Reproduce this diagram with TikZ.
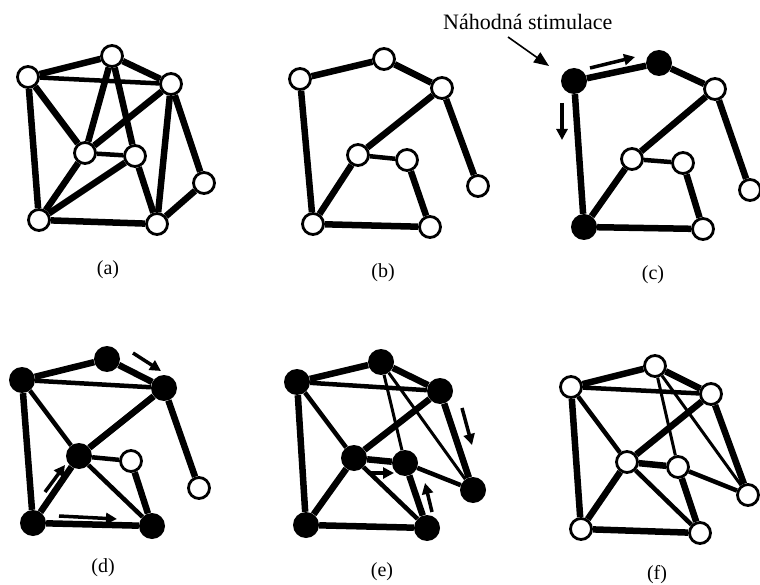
\documentclass[tikz,border=0pt]{standalone}
\usepackage{fontspec}
\setmainfont{Liberation Serif}
\usetikzlibrary{arrows.meta}
\tikzset{
  onode/.style={circle, draw=black, fill=white, line width=2.8pt, minimum size=21pt, inner sep=0pt},
  fnode/.style={circle, fill=black, minimum size=26pt, inner sep=0pt},
  thk/.style={line width=6.5pt},
  med/.style={line width=4.5pt},
  thn/.style={line width=3pt},
  sarrow/.style={line width=3.5pt, -{Triangle[length=11pt,width=11pt]}},
  lbl/.style={font=\fontsize{20}{22}\selectfont, inner sep=0pt}
}
\begin{document}
\begin{tikzpicture}[x=1pt,y=-1pt]
\useasboundingbox (0,0) rectangle (760,585);
\fill[white] (0,0) rectangle (760,585);

% ---------- (a) ----------
\node[onode] (a1) at (28,77) {};
\node[onode] (a2) at (112,56) {};
\node[onode] (a3) at (171,84) {};
\node[onode] (a4) at (85,153) {};
\node[onode] (a5) at (135,156) {};
\node[onode] (a6) at (204,183) {};
\node[onode] (a7) at (39,220) {};
\node[onode] (a8) at (157,224) {};
\draw[thk] (a1) -- (a2);
\draw[med] (a1) -- (a3);
\draw[thk] (a2) -- (a3);
\draw[thk] (a1) -- (a4);
\draw[thk] (a1) -- (a7);
\draw[thk] (a2) -- (a4);
\draw[thk] (a2) -- (a5);
\draw[thk] (a3) -- (a4);
\draw[thk] (a3) -- (a8);
\draw[thk] (a3) -- (a6);
\draw[med] (a4) -- (a5);
\draw[thk] (a4) -- (a7);
\draw[thk] (a5) -- (a7);
\draw[thk] (a5) -- (a8);
\draw[thk] (a6) -- (a8);
\draw[thk] (a7) -- (a8);
\node[lbl] (la) at (108,270) {(a)};

% ---------- (b) ----------
\node[onode] (b1) at (300,79) {};
\node[onode] (b2) at (384,59) {};
\node[onode] (b3) at (442,88) {};
\node[onode] (b4) at (358,155) {};
\node[onode] (b5) at (407,160) {};
\node[onode] (b6) at (478,186) {};
\node[onode] (b7) at (313,224) {};
\node[onode] (b8) at (430,227) {};
\draw[thk] (b1) -- (b2);
\draw[thk] (b2) -- (b3);
\draw[thk] (b1) -- (b7);
\draw[thk] (b3) -- (b4);
\draw[thk] (b3) -- (b6);
\draw[med] (b4) -- (b5);
\draw[thk] (b4) -- (b7);
\draw[thk] (b5) -- (b8);
\draw[thk] (b7) -- (b8);
\node[lbl] (lb) at (383,273) {(b)};

% ---------- (c) ----------
\node[fnode] (c1) at (574,81) {};
\node[fnode] (c2) at (659,63) {};
\node[onode] (c3) at (715,89) {};
\node[onode] (c4) at (632,159) {};
\node[onode] (c5) at (683,163) {};
\node[onode] (c6) at (750,190) {};
\node[fnode] (c7) at (584,227) {};
\node[onode] (c8) at (703,229) {};
\draw[thk] (c1) -- (c2);
\draw[thk] (c2) -- (c3);
\draw[thk] (c1) -- (c7);
\draw[thk] (c3) -- (c4);
\draw[thk] (c3) -- (c6);
\draw[med] (c4) -- (c5);
\draw[thk] (c4) -- (c7);
\draw[thk] (c5) -- (c8);
\draw[thk] (c7) -- (c8);
\coordinate (ca1s) at (590,68);
\coordinate (ca1e) at (635,57);
\draw[sarrow] (ca1s) -- (ca1e);
\coordinate (ca2s) at (562,103);
\coordinate (ca2e) at (562,140);
\draw[sarrow] (ca2s) -- (ca2e);
\node[lbl] (lc) at (653,275) {(c)};
\node[font=\fontsize{22}{24}\selectfont, inner sep=0pt, anchor=base west] (stim) at (443,30) {Náhodná stimulace};
\coordinate (stims) at (508,37);
\coordinate (stime) at (549,66);
\draw[line width=1.6pt, -{Triangle[length=15pt,width=12pt]}] (stims) -- (stime);

% ---------- (d) ----------
\node[fnode] (d1) at (22,380) {};
\node[fnode] (d2) at (107,359) {};
\node[fnode] (d3) at (164,388) {};
\node[fnode] (d4) at (79,456) {};
\node[onode] (d5) at (131,461) {};
\node[onode] (d6) at (199,488) {};
\node[fnode] (d7) at (33,523) {};
\node[fnode] (d8) at (152,526) {};
\draw[thk] (d1) -- (d2);
\draw[med] (d1) -- (d3);
\draw[thk] (d2) -- (d3);
\draw[med] (d1) -- (d4);
\draw[thk] (d1) -- (d7);
\draw[thk] (d3) -- (d4);
\draw[thk] (d3) -- (d6);
\draw[med] (d4) -- (d5);
\draw[thk] (d4) -- (d7);
\draw[med] (d4) -- (d8);
\draw[thk] (d5) -- (d8);
\draw[thk] (d7) -- (d8);
\coordinate (da1s) at (133,353);
\coordinate (da1e) at (161,371);
\draw[sarrow] (da1s) -- (da1e);
\coordinate (da2s) at (45,492);
\coordinate (da2e) at (65,465);
\draw[sarrow] (da2s) -- (da2e);
\coordinate (da3s) at (59,516);
\coordinate (da3e) at (117,519);
\draw[sarrow] (da3s) -- (da3e);
\node[lbl] (ld) at (103,568) {(d)};

% ---------- (e) ----------
\node[fnode] (e1) at (297,382) {};
\node[fnode] (e2) at (381,362) {};
\node[fnode] (e3) at (440,391) {};
\node[fnode] (e4) at (354,458) {};
\node[fnode] (e5) at (405,463) {};
\node[fnode] (e6) at (473,490) {};
\node[fnode] (e7) at (306,525) {};
\node[fnode] (e8) at (427,528) {};
\draw[thk] (e1) -- (e2);
\draw[med] (e1) -- (e3);
\draw[thk] (e2) -- (e3);
\draw[med] (e1) -- (e4);
\draw[thk] (e1) -- (e7);
\draw[thn] (e2) -- (e5);
\draw[thn] (e2) -- (e6);
\draw[thk] (e3) -- (e4);
\draw[thk] (e3) -- (e6);
\draw[thk] (e4) -- (e5);
\draw[thk] (e4) -- (e7);
\draw[med] (e4) -- (e8);
\draw[thk] (e5) -- (e8);
\draw[med] (e5) -- (e6);
\draw[thk] (e7) -- (e8);
\coordinate (ea1s) at (462,408);
\coordinate (ea1e) at (472,445);
\draw[sarrow] (ea1s) -- (ea1e);
\coordinate (ea2s) at (371,473);
\coordinate (ea2e) at (394,473);
\draw[sarrow] (ea2s) -- (ea2e);
\coordinate (ea3s) at (432,512);
\coordinate (ea3e) at (425,483);
\draw[sarrow] (ea3s) -- (ea3e);
\node[lbl] (le) at (382,572) {(e)};

% ---------- (f) ----------
\node[onode] (f1) at (571,387) {};
\node[onode] (f2) at (655,366) {};
\node[onode] (f3) at (711,394) {};
\node[onode] (f4) at (627,462) {};
\node[onode] (f5) at (678,467) {};
\node[onode] (f6) at (748,495) {};
\node[onode] (f7) at (581,529) {};
\node[onode] (f8) at (700,533) {};
\draw[thk] (f1) -- (f2);
\draw[med] (f1) -- (f3);
\draw[thk] (f2) -- (f3);
\draw[med] (f1) -- (f4);
\draw[thk] (f1) -- (f7);
\draw[thn] (f2) -- (f5);
\draw[thn] (f2) -- (f6);
\draw[thk] (f3) -- (f4);
\draw[thk] (f3) -- (f6);
\draw[thk] (f4) -- (f5);
\draw[thk] (f4) -- (f7);
\draw[med] (f4) -- (f8);
\draw[thk] (f5) -- (f8);
\draw[med] (f5) -- (f6);
\draw[thk] (f7) -- (f8);
\node[lbl] (lf) at (657,575) {(f)};
\end{tikzpicture}
\end{document}
